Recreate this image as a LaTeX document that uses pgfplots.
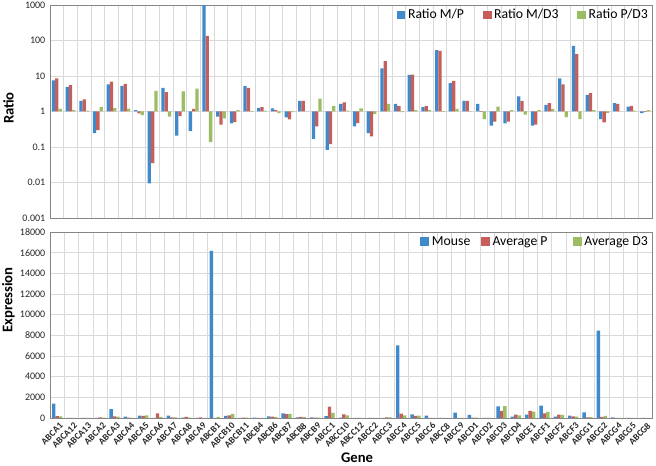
\documentclass[border=0pt]{standalone}
\usepackage{fontspec}
\setmainfont{Carlito}
\usepackage{pgfplots}
\usepackage{pgfplotstable}
\pgfplotsset{compat=1.18}
\definecolor{xlblue}{HTML}{3F8ACB}
\definecolor{xlred}{HTML}{C65F5B}
\definecolor{xlgreen}{HTML}{9CBD63}
\definecolor{gridgrey}{HTML}{D9D9D9}
\definecolor{framegrey}{HTML}{868686}
\pgfplotsset{sqlegend/.style={legend image code/.code={\fill[##1] (0pt,-3.3pt) rectangle (6.6pt,3.3pt);}}}

% ratios, 44 genes (top panel)
\pgfplotstableread{
x mp md3 pd3
0 7.5 8.5 1.19
1 4.9 5.5 1.1
2 2.0 2.2 1.05
3 0.245 0.30 1.33
4 5.8 6.9 1.25
5 5.3 6.0 1.2
6 1.1 0.88 0.79
7 0.0095 0.035 3.8
8 4.6 3.5 0.72
9 0.21 0.74 3.7
10 0.28 1.19 4.4
11 990 135 0.137
12 0.72 0.43 0.64
13 0.46 0.50 1.1
14 5.2 4.6 0.97
15 1.27 1.33 1.05
16 1.22 1.1 0.9
17 0.68 0.6 0.96
18 2.0 2.0 1.0
19 0.17 0.38 2.3
20 0.083 0.12 1.45
21 1.65 1.8 1.05
22 0.38 0.47 1.22
23 0.245 0.2 0.84
24 16.3 26.3 1.65
25 1.65 1.45 0.96
26 10.8 11.0 1.1
27 1.33 1.42 1.1
28 53.6 51 0.97
29 6.3 7.3 1.19
30 2.0 2.0 1.02
31 1.65 0.98 0.61
32 0.4 0.52 1.38
33 0.46 0.52 1.1
34 2.65 2.0 0.81
35 0.4 0.43 1.1
36 1.54 1.72 1.19
37 8.5 5.8 0.69
38 71 41.5 0.61
39 2.95 3.3 1.1
40 0.61 0.49 0.9
41 1.72 1.65 1.0
42 1.38 1.45 1.05
43 0.9 0.98 1.1
}\ratiotable

% expression, 42 genes (bottom panel)
\pgfplotstableread{
x mouse avgp avgd3
0 1390 185 160
1 10 2 2
2 5 2.5 2.3
3 15 60 45
4 870 150 126
5 130 25 22
6 230 210 260
7 4 450 120
8 230 50 66
9 25 120 33
10 15 54 12
11 16180 16 120
12 200 260 400
13 20 43 40
14 30 6 6.5
15 160 126 120
16 450 370 410
17 70 100 105
18 60 30 30
19 190 1100 500
20 30 360 250
21 10 6 5.5
22 4 10 9
23 15 60 72
24 7020 430 265
25 350 212 240
26 230 21 21
27 8 6 5.5
28 520 10 10
29 290 46 40
30 10 5 5
31 1130 680 1150
32 130 325 250
33 330 680 620
34 1200 450 600
35 130 320 300
36 240 160 140
37 550 65 95
38 8450 120 200
39 60 20 20
40 5 8 8
41 3 2 2
}\exprtable

\begin{document}
\begin{tikzpicture}
\useasboundingbox (0,0) rectangle (492pt,349.5pt);

\pgfplotsset{
  xlpanel/.style={
    scale only axis, width=451.5pt, anchor=south west,
    ybar, bar width=0.24,
    axis line style={framegrey}, tick style={draw=none},
    major tick length=0pt, minor tick length=0pt,
    grid style={gridgrey, line width=0.6pt},
    ymajorgrids,
    /pgf/number format/assume math mode=true,
    /pgf/number format/1000 sep={},
    yticklabel style={font=\fontsize{7.5}{9}\selectfont, text=black!85},
    ylabel style={font=\bfseries\fontsize{11}{13}\selectfont, anchor=center},
    legend style={at={(1,1)}, anchor=north east, draw=none, fill=none,
      font=\fontsize{10.3}{12}\selectfont, inner sep=1pt},
    legend columns=3,
  }
}

% top panel: ratios on a log scale
\begin{axis}[
  xlpanel,
  at={(37.5pt,186pt)}, height=159.75pt,
  ymode=log, ymin=0.001, ymax=1000,
  xmin=-0.5, xmax=43.5,
  xtick={0.5,1.5,...,42.5}, xticklabels={}, xmajorgrids,
  ytick={0.001,0.01,0.1,1,10,100,1000},
  yticklabels={0.001,0.01,0.1,1,10,100,1000},
  ylabel={Ratio},
  ylabel style={at={(axis description cs:-0.069,0.516)}},
  legend style={/tikz/every even column/.append style={column sep=12pt}},
]
\addplot[fill=xlblue, draw=none, bar shift=-0.24, sqlegend] table[x=x, y=mp] {\ratiotable};
\addlegendentry{Ratio M/P}
\addplot[fill=xlred, draw=none, bar shift=0, sqlegend] table[x=x, y=md3] {\ratiotable};
\addlegendentry{Ratio M/D3}
\addplot[fill=xlgreen, draw=none, bar shift=0.24, sqlegend] table[x=x, y=pd3] {\ratiotable};
\addlegendentry{Ratio P/D3}
\end{axis}

% bottom panel: expression levels
\begin{axis}[
  xlpanel,
  at={(37.5pt,36pt)}, height=139.5pt,
  ymin=0, ymax=18000, ytick={0,2000,...,18000},
  scaled y ticks=false,
  xmin=-0.5, xmax=41.5,
  xtick={0,...,41},
  xticklabels={ABCA1,ABCA12,ABCA13,ABCA2,ABCA3,ABCA4,ABCA5,ABCA6,ABCA7,ABCA8,ABCA9,
    ABCB1,ABCB10,ABCB11,ABCB4,ABCB6,ABCB7,ABCB8,ABCB9,
    ABCC1,ABCC10,ABCC12,ABCC2,ABCC3,ABCC4,ABCC5,ABCC6,ABCC8,ABCC9,
    ABCD1,ABCD2,ABCD3,ABCD4,ABCE1,ABCF1,ABCF2,ABCF3,ABCG1,ABCG2,ABCG4,ABCG5,ABCG8},
  xticklabel style={rotate=45, anchor=north east, inner sep=1pt, yshift=-2pt,
    font=\bfseries\fontsize{7}{8}\selectfont, text=black!85},
  minor xtick={-0.5,0.5,...,41.5}, xminorgrids,
  ylabel={Expression},
  ylabel style={at={(axis description cs:-0.069,0.634)}},
  xlabel={Gene},
  xlabel style={font=\bfseries\fontsize{11}{13}\selectfont, anchor=center,
    at={(axis description cs:0.51,-0.215)}},
  legend style={/tikz/column 2/.style={column sep=6pt},
    /tikz/column 4/.style={column sep=17pt}},
]
\addplot[fill=xlblue, draw=none, bar shift=-0.24, sqlegend] table[x=x, y=mouse] {\exprtable};
\addlegendentry{Mouse}
\addplot[fill=xlred, draw=none, bar shift=0, sqlegend] table[x=x, y=avgp] {\exprtable};
\addlegendentry{Average P}
\addplot[fill=xlgreen, draw=none, bar shift=0.24, sqlegend] table[x=x, y=avgd3] {\exprtable};
\addlegendentry{Average D3}
\end{axis}
\end{tikzpicture}
\end{document}
